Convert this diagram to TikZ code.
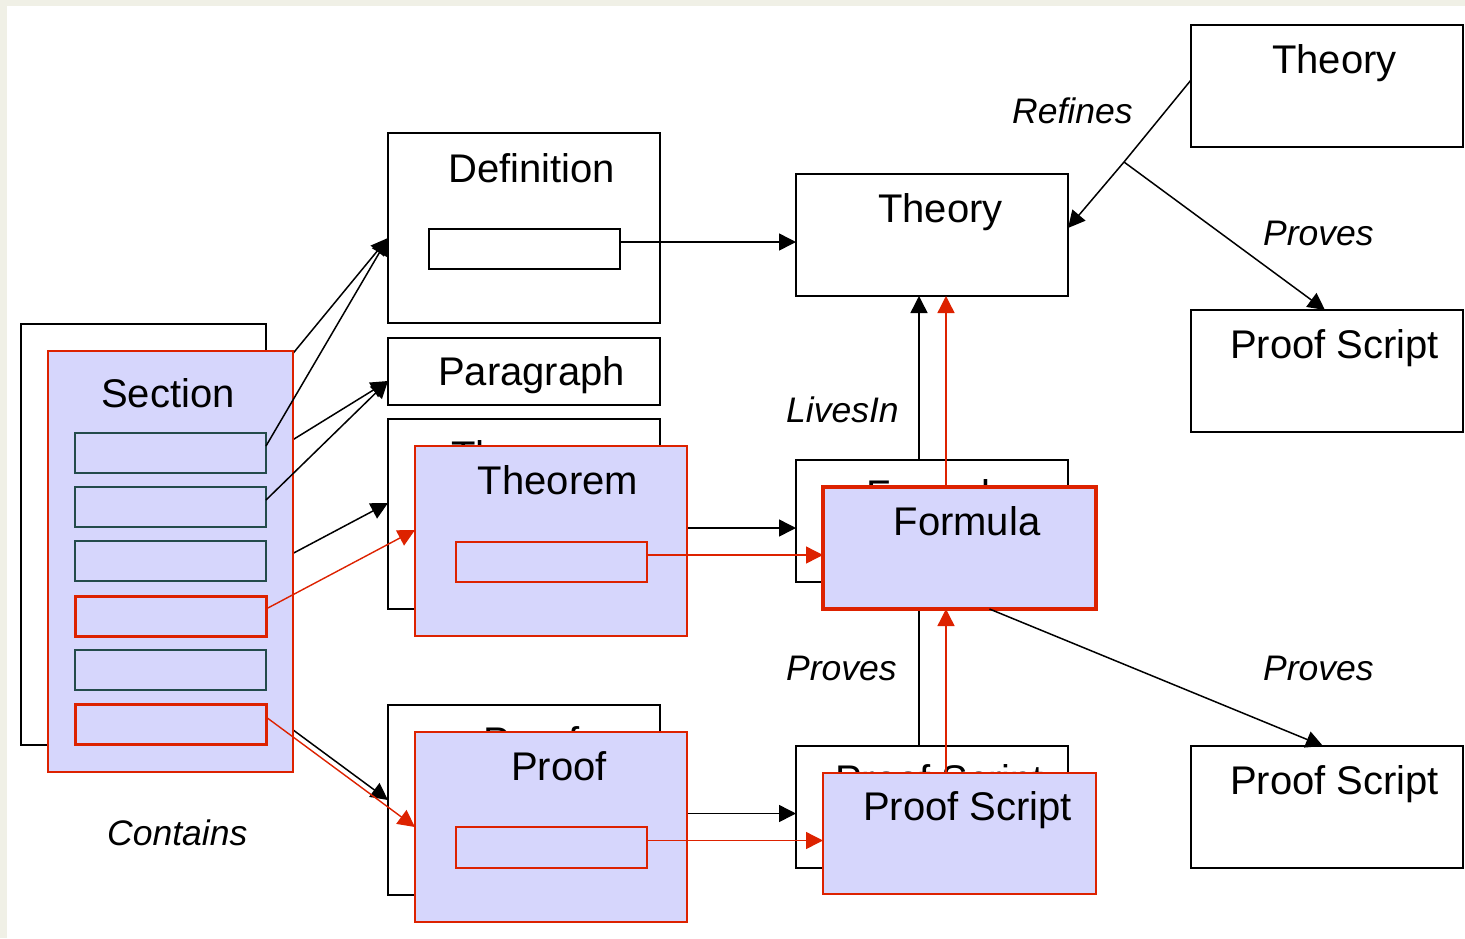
\documentclass[tikz,border=0pt]{standalone}
\usepackage{fontspec}
\setmainfont{Liberation Sans}
\usetikzlibrary{arrows.meta,calc}
\definecolor{lav}{RGB}{214,214,252}
\definecolor{rd}{RGB}{221,34,0}
\definecolor{tealdk}{RGB}{35,75,75}
\definecolor{beigebg}{RGB}{240,240,230}
\begin{document}
\begin{tikzpicture}[x=1pt,y=-1pt,
  box/.style={draw=black, line width=1.5pt, fill=white, inner sep=0pt, outer sep=0pt, anchor=north west},
  fbox/.style={draw=rd, line width=1.5pt, fill=lav, inner sep=0pt, outer sep=0pt, anchor=north west},
  tbox/.style={draw=tealdk, line width=2pt, fill=lav, inner sep=0pt, outer sep=0pt, anchor=north west, minimum width=191pt, minimum height=40pt},
  rbox/.style={draw=rd, line width=3pt, fill=lav, inner sep=0pt, outer sep=0pt, anchor=north west, minimum width=191pt, minimum height=40pt},
  btxt/.style={anchor=base, inner sep=0pt, font=\fontsize{40}{48}\selectfont},
  lbl/.style={anchor=base west, inner sep=0pt, font=\fontsize{35.5}{42}\selectfont\itshape},
  conn/.style={line width=1.5pt, -{Triangle[length=17pt,width=17pt]}},
  rconn/.style={line width=1.4pt, color=rd, -{Triangle[length=17pt,width=17pt]}}]
\useasboundingbox (0,0) rectangle (1465,938);
\fill[beigebg] (0,0) rectangle (1465,938);
\fill[white] (7,6) rectangle (1465,938);

% ---------- back layer ----------
\node[box, minimum width=245pt, minimum height=421pt] (secB) at (21,324) {};
\node[btxt] (secBt) at ([xshift=-2.5pt,yshift=-56pt]secB.north) {Section};
\foreach \i/\y in {1/406,2/460,3/514,4/569,5/623,6/677}
  \node[box, minimum width=191pt, minimum height=40pt] (sb\i) at (48,\y) {};
\node[box, minimum width=272pt, minimum height=190pt] (thmB) at (388,419) {};
\node[btxt] (thmBt) at ([xshift=7.5pt,yshift=-50pt]thmB.north) {Theorem};
\node[box, minimum width=191pt, minimum height=40pt] (thmBi) at (429,515) {};
\node[box, minimum width=272pt, minimum height=190pt] (prfB) at (388,705) {};
\node[btxt] (prfBt) at ([xshift=7.5pt,yshift=-50pt]prfB.north) {Proof};
\node[box, minimum width=191pt, minimum height=41pt] (prfBi) at (429,800) {};
\node[box, minimum width=272pt, minimum height=122pt] (forB) at (796,460) {};
\node[btxt] (forBt) at ([xshift=7.5pt,yshift=-48pt]forB.north) {Formula};
\node[box, minimum width=272pt, minimum height=122pt] (psB) at (796,746) {};
\node[btxt] (psBt) at ([xshift=7.5pt,yshift=-47pt]psB.north) {Proof Script};

% ---------- single boxes ----------
\node[box, minimum width=272pt, minimum height=190pt] (defn) at (388,133) {};
\node[btxt] (defnt) at ([xshift=7.5pt,yshift=-49pt]defn.north) {Definition};
\node[box, minimum width=191pt, minimum height=40pt] (defIn) at (429,229) {};
\node[box, minimum width=272pt, minimum height=67pt] (para) at (388,338) {};
\node[btxt] (parat) at ([xshift=7.5pt,yshift=-47pt]para.north) {Paragraph};
\node[box, minimum width=272pt, minimum height=122pt] (thM) at (796,174) {};
\node[btxt] (thMt) at ([xshift=8.5pt,yshift=-48pt]thM.north) {Theory};
\node[box, minimum width=272pt, minimum height=122pt] (thTR) at (1191,25) {};
\node[btxt] (thTRt) at ([xshift=7.5pt,yshift=-48pt]thTR.north) {Theory};
\node[box, minimum width=272pt, minimum height=122pt] (ps1) at (1191,310) {};
\node[btxt] (ps1t) at ([xshift=7.5pt,yshift=-48pt]ps1.north) {Proof Script};
\node[box, minimum width=272pt, minimum height=122pt] (ps2) at (1191,746) {};
\node[btxt] (ps2t) at ([xshift=7.5pt,yshift=-48pt]ps2.north) {Proof Script};

% ---------- black connectors (back layer) ----------
\draw[conn] ([yshift=7pt]sb1.east) -- ([yshift=-10pt]defn.west);
\draw[conn] ([yshift=7pt]sb2.east) -- ([yshift=-9.5pt]para.west);
\draw[conn] ([yshift=7pt]sb4.east) -- ([yshift=11pt]thmB.west);
\draw[conn] ([yshift=7pt]sb6.east) -- (prfB.west);
\coordinate (d1) at ([yshift=7pt]defIn.east);
\draw[conn] (d1) -- (d1 -| thM.west);
\coordinate (d2) at ([yshift=7pt]thmBi.east);
\draw[conn] (d2) -- (d2 -| forB.west);
\coordinate (d3) at ([yshift=7pt]prfBi.east);
\draw[conn] (d3) -- (d3 -| psB.west);
\coordinate (v1) at ([xshift=-13pt]forB.north);
\draw[conn] (v1) -- (v1 |- thM.south);
\coordinate (v2) at ([xshift=-13pt]psB.north);
\draw[conn] (v2) -- (v2 |- forB.south);
\coordinate (br) at (1124,162);
\draw[line width=1.5pt] ([yshift=6pt]thTR.west) -- (br);
\draw[conn] (br) -- ([yshift=7pt]thM.east);
\draw[conn] (br) -- ([xshift=-2pt]ps1.north);

% ---------- front layer ----------
\node[fbox, minimum width=245pt, minimum height=421pt] (secF) at (48,351) {};
\node[btxt] (secFt) at ([xshift=-2.5pt,yshift=-56pt]secF.north) {Section};
\node[tbox] (sf1) at (75,433) {};
\node[tbox] (sf2) at (75,487) {};
\node[tbox] (sf3) at (75,541) {};
\node[rbox] (sf4) at (75,596) {};
\node[tbox] (sf5) at (75,650) {};
\node[rbox] (sf6) at (75,704) {};
\node[fbox, minimum width=272pt, minimum height=190pt] (thmF) at (415,446) {};
\node[btxt] (thmFt) at ([xshift=7pt,yshift=-48pt]thmF.north) {Theorem};
\node[fbox, minimum width=191pt, minimum height=40pt] (thmFi) at (456,542) {};
\node[fbox, minimum width=272pt, minimum height=190pt] (prfF) at (415,732) {};
\node[btxt] (prfFt) at ([xshift=8pt,yshift=-48pt]prfF.north) {Proof};
\node[fbox, minimum width=191pt, minimum height=41pt] (prfFi) at (456,827) {};
\node[fbox, line width=3.5pt, minimum width=273pt, minimum height=122pt] (forF) at (823,487) {};
\node[btxt] (forFt) at ([xshift=7.5pt,yshift=-48pt]forF.north) {Formula};
\node[fbox, minimum width=273pt, minimum height=121pt] (psF) at (823,773) {};
\node[btxt] (psFt) at ([xshift=8pt,yshift=-47pt]psF.north) {Proof Script};

% ---------- front connectors ----------
\draw[conn] ([yshift=7pt]sf1.east) -- ([yshift=-10pt]defn.west);
\draw[conn] ([yshift=7pt]sf2.east) -- ([yshift=-9.5pt]para.west);
\draw[conn] ([xshift=30pt]forF.south) -- ([xshift=-4pt]ps2.north);
\draw[rconn] ([yshift=7pt]sf4.east) -- ([yshift=11pt]thmF.west);
\draw[rconn] ([yshift=7pt]sf6.east) -- (prfF.west);
\coordinate (e1) at ([yshift=7pt]thmFi.east);
\draw[rconn] (e1) -- (e1 -| forF.west);
\coordinate (e2) at ([yshift=7pt]prfFi.east);
\draw[rconn] (e2) -- (e2 -| psF.west);
\coordinate (w1) at ([xshift=-13.5pt]forF.north);
\draw[rconn] (w1) -- (w1 |- thM.south);
\coordinate (w2) at ([xshift=-13.5pt]psF.north);
\draw[rconn] (w2) -- (w2 |- forF.south);

% ---------- labels ----------
\node[lbl] (lRef) at (1012,123) {Refines};
\node[lbl] (lPr1) at (1263,245) {Proves};
\node[lbl] (lLiv) at (786,422) {LivesIn};
\node[lbl] (lPr2) at (786,680) {Proves};
\node[lbl] (lPr3) at (1263,680) {Proves};
\node[lbl] (lCon) at (107,845) {Contains};
\end{tikzpicture}
\end{document}
